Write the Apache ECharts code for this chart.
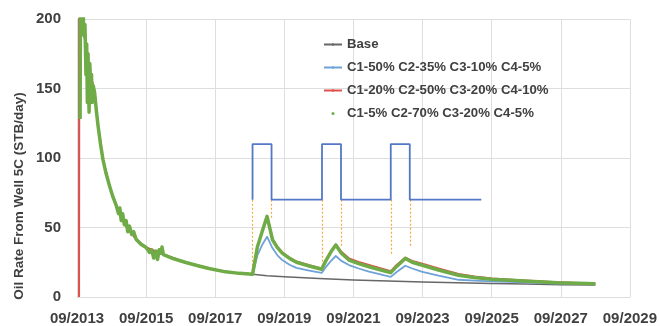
<!DOCTYPE html>
<html>
<head>
<meta charset="utf-8">
<script src="https://cdn.jsdelivr.net/npm/echarts@6/dist/echarts.min.js"></script>
<style>
  html, body { margin: 0; padding: 0; background: #fff; }
  #chart { width: 660px; height: 326px; }
</style>
</head>
<body>
<div id="chart"></div>
<script>
// Time is measured in years after 09/2013; rates in STB/day.
const startYear = 2013;
const xTicks = [0, 2, 4, 6, 8, 10, 12, 14, 16];

// Shared primary-depletion decline (all cases identical before the first injection cycle)
const baseEarly = [
  [0.06, 0], [0.065, 215], [0.15, 200], [0.3, 172], [0.42, 157], [0.51, 147],
  [0.61, 123], [0.75, 99], [0.94, 80], [1.14, 65.5], [1.42, 51], [1.71, 41.6],
  [2.0, 35.6], [2.48, 30.8], [3.15, 24.8], [3.82, 20.5], [4.3, 18.1], [4.7, 17],
  [5.08, 16.3]
];

// Base case (no gas injection)
const baseLate = [
  [5.5, 15.3], [6, 14.5], [7, 13.3], [8, 12.3], [9, 11.5], [10, 10.8],
  [11, 10.2], [12, 9.7], [13, 9.3], [14, 8.9], [15, 8.6]
];

// C1-50% C2-35% C3-10% C4-5%
const case1Late = [
  [5.15, 23], [5.22, 30], [5.37, 38], [5.5, 43.4], [5.66, 35], [5.8, 30],
  [5.94, 26.6], [6.15, 23.2], [6.35, 21], [6.72, 19], [7.08, 17.3], [7.2, 21.5],
  [7.35, 26], [7.49, 29.5], [7.65, 26], [7.87, 23], [8.15, 20.5], [8.45, 18.2],
  [8.93, 15.3], [9.08, 14.5], [9.25, 18], [9.5, 22.5], [9.7, 20.5], [9.97, 18.2],
  [10.46, 15.3], [11.04, 12.4], [11.5, 11.8], [12, 11.2], [12.95, 10.5],
  [13.9, 9.7], [14.5, 9.4], [15, 9.1]
];

// C1-20% C2-50% C3-20% C4-10%
const case2Late = [
  [5.15, 26], [5.22, 36], [5.37, 48], [5.5, 58], [5.66, 41.5], [5.8, 36],
  [5.94, 32], [6.15, 28.3], [6.35, 25.5], [6.72, 22.8], [7.08, 20.5], [7.2, 26.5],
  [7.35, 33], [7.49, 37.8], [7.65, 32.5], [7.87, 27.8], [8.15, 25.2], [8.45, 23],
  [8.93, 19.6], [9.08, 18.6], [9.25, 23], [9.5, 28.3], [9.7, 26], [9.97, 24.2],
  [10.46, 20.6], [11.04, 16.5], [11.5, 14.8], [12, 13.3], [12.95, 11.9],
  [13.9, 10.6], [14.5, 10.1], [15, 9.7]
];

// C1-5% C2-70% C3-20% C4-5% (simulator output with its early-time oscillations)
const case3Early = [
  [0.09, 128], [0.1, 215], [0.14, 205], [0.17, 212], [0.2, 188], [0.23, 196],
  [0.26, 160], [0.28, 182], [0.3, 140], [0.32, 175], [0.35, 133], [0.37, 168],
  [0.4, 150], [0.42, 160], [0.44, 140], [0.47, 152], [0.51, 147], [0.56, 134],
  [0.61, 123], [0.68, 110], [0.75, 99], [0.84, 89], [0.94, 80], [1.04, 72],
  [1.14, 65.5], [1.2, 60], [1.24, 64], [1.28, 55], [1.32, 60], [1.37, 52],
  [1.42, 55], [1.47, 47], [1.52, 51], [1.58, 45], [1.64, 47], [1.71, 41.6],
  [1.85, 38], [2.0, 35.6], [2.1, 32], [2.16, 34], [2.22, 28], [2.29, 33],
  [2.33, 27], [2.38, 34], [2.43, 31.5], [2.46, 36], [2.5, 30.5], [2.8, 27.5],
  [3.15, 24.8], [3.5, 22.5], [3.82, 20.5], [4.3, 18.1], [4.7, 17], [5.08, 16.3]
];
const case3Late = [
  [5.15, 26], [5.22, 36], [5.37, 48], [5.5, 58], [5.66, 41], [5.8, 35.5],
  [5.94, 31.6], [6.15, 27.8], [6.35, 25], [6.72, 22.3], [7.08, 20], [7.2, 26],
  [7.35, 32.5], [7.49, 37.4], [7.65, 31.5], [7.87, 26.6], [8.15, 24], [8.45, 21.8],
  [8.93, 18.5], [9.08, 17.5], [9.25, 22], [9.5, 27.8], [9.7, 25], [9.97, 23],
  [10.46, 19.4], [11.04, 15.6], [11.5, 14], [12, 12.7], [12.95, 11.5],
  [13.9, 10.3], [14.5, 9.9], [15, 9.5]
];

// Injection on/off schedule (drawn as a step profile on the rate scale)
const scheduleLow = 70;
const scheduleHigh = 110;
const cycleStarts = [5.08, 7.09, 9.08];
const cycleEnds = [5.63, 7.64, 9.63];
const scheduleEnd = 11.7;
// Lower ends of the guide lines dropped from each cycle edge
const guideLowStart = [17, 21, 30];
const guideLowEnd = [57, 36, 36];

const seriesNames = [
  'Base',
  'C1-50% C2-35% C3-10% C4-5%',
  'C1-20% C2-50% C3-20% C4-10%',
  'C1-5% C2-70% C3-20% C4-5%'
];

// Build the step profile and guide lines from the schedule arrays
const schedule = [];
const guides = [];
cycleStarts.forEach((s, i) => {
  const e = cycleEnds[i];
  schedule.push([s, scheduleLow], [s, scheduleHigh], [e, scheduleHigh], [e, scheduleLow]);
  guides.push([{ coord: [s, scheduleLow] }, { coord: [s, guideLowStart[i]] }]);
  guides.push([{ coord: [e, scheduleLow] }, { coord: [e, guideLowEnd[i]] }]);
});
schedule.push([scheduleEnd, scheduleLow]);

const textColor = '#404040';
const gridColor = '#dedede';
const fontFamily = '"Liberation Sans", Arial, sans-serif';

const chart = echarts.init(document.getElementById('chart'), null, { renderer: 'canvas' });

const lineSeries = (name, data, color, width, z) => ({
  name, type: 'line', data, symbol: 'none', z,
  lineStyle: { color, width, join: 'round' },
  itemStyle: { color },
  emphasis: { disabled: true }
});

chart.setOption({
  animation: false,
  grid: { left: 77, right: 27, top: 19, bottom: 29 },
  xAxis: {
    type: 'value', min: xTicks[0], max: xTicks[xTicks.length - 1], interval: 2,
    axisLine: { show: true, lineStyle: { color: gridColor, width: 1 } },
    axisTick: { show: false },
    splitLine: { show: true, lineStyle: { color: gridColor, width: 1 } },
    axisLabel: {
      margin: 14, color: textColor, fontSize: 15, fontWeight: 'bold', fontFamily,
      formatter: v => '09/' + (startYear + v)
    }
  },
  yAxis: {
    type: 'value', min: 0, max: 200, interval: 50,
    axisLine: { show: false },
    axisTick: { show: false },
    splitLine: { show: true, lineStyle: { color: gridColor, width: 1 } },
    axisLabel: { margin: 16, color: textColor, fontSize: 15, fontWeight: 'bold', fontFamily }
  },
  legend: {
    orient: 'vertical', left: 318, top: 32, itemWidth: 18, itemHeight: 3, itemGap: 8,
    selectedMode: false,
    textStyle: { color: textColor, fontSize: 13.2, fontWeight: 'bold', fontFamily, lineHeight: 15 },
    data: [
      { name: seriesNames[0] },
      { name: seriesNames[1] },
      { name: seriesNames[2] },
      { name: seriesNames[3], icon: 'circle' }
    ]
  },
  graphic: [{
    type: 'text', x: 19, y: 196, rotation: Math.PI / 2,
    style: {
      text: 'Oil Rate From Well 5C (STB/day)', fill: textColor,
      font: 'bold 13.5px ' + fontFamily, textAlign: 'center', textVerticalAlign: 'middle'
    }
  }],
  series: [
    lineSeries(seriesNames[0], baseEarly.concat(baseLate), '#676767', 1.5, 2),
    lineSeries(seriesNames[1], baseEarly.concat(case1Late), '#6fa3d8', 1.8, 3),
    lineSeries(seriesNames[2], baseEarly.concat(case2Late), '#e0504a', 2, 4),
    lineSeries(seriesNames[3], case3Early.concat(case3Late), '#6fab46', 3.5, 5),
    {
      name: 'Injection schedule', type: 'line', data: schedule, symbol: 'none', z: 6,
      lineStyle: { color: '#5478c6', width: 1.8 },
      emphasis: { disabled: true },
      markLine: {
        silent: true, symbol: 'none', label: { show: false },
        lineStyle: { color: '#f2a93b', type: [2, 2], width: 1.2 },
        data: guides
      }
    }
  ]
});
</script>
</body>
</html>
